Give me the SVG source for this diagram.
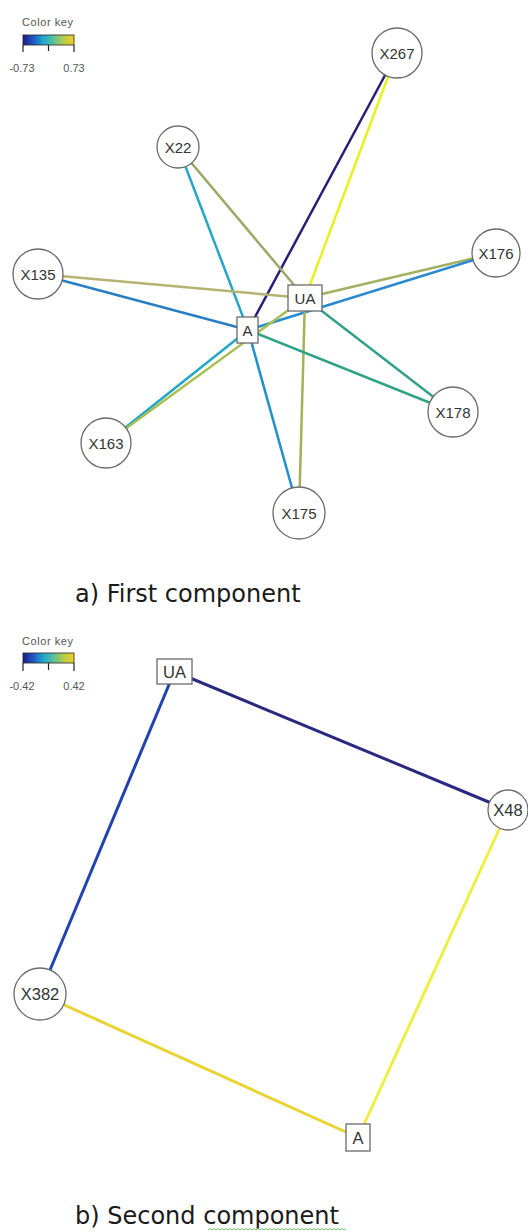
<svg xmlns="http://www.w3.org/2000/svg" width="528" height="1232" viewBox="0 0 528 1232">
<style>
.bg{fill:#ffffff}
.e1{fill:none;stroke-width:2.5;stroke-linecap:round}
.e2{fill:none;stroke-width:3;stroke-linecap:round}
.node{fill:#ffffff;stroke:#6a6a6a;stroke-width:1.3}
.lbl{font-family:"Liberation Sans",Arial,sans-serif;font-size:15px;fill:#333333;text-anchor:middle;dominant-baseline:central}
.lbl2{font-family:"Liberation Sans",Arial,sans-serif;font-size:16.5px;fill:#333333;text-anchor:middle;dominant-baseline:central}
.key{font-family:"Liberation Sans",Arial,sans-serif;font-size:11px;fill:#555555}
.tick{stroke:#222222;stroke-width:1.2}
.title{font-family:"DejaVu Sans",Verdana,sans-serif;font-size:24px;fill:#1a1a1a}
</style>
<defs>
<linearGradient id="ck" x1="0" y1="0" x2="1" y2="0">
<stop offset="0" stop-color="#1c1c8a"/>
<stop offset="0.2" stop-color="#2058c0"/>
<stop offset="0.4" stop-color="#20a8d0"/>
<stop offset="0.6" stop-color="#5cc09a"/>
<stop offset="0.8" stop-color="#b8cc48"/>
<stop offset="1" stop-color="#f2d020"/>
</linearGradient>
</defs>
<rect class="bg" x="0" y="0" width="528" height="1232"/>

<g id="colorkey-a">
<text class="key" x="22" y="26" textLength="51">Color key</text>
<rect x="23" y="35" width="51" height="10" fill="url(#ck)" stroke="#222" stroke-width="0.8"/>
<line class="tick" x1="23" y1="45" x2="23" y2="52"/>
<line class="tick" x1="48.5" y1="45" x2="48.5" y2="51"/>
<line class="tick" x1="74" y1="45" x2="74" y2="52"/>
<text class="key" x="22" y="72" text-anchor="middle">-0.73</text>
<text class="key" x="74" y="72" text-anchor="middle">0.73</text>
</g>

<g id="edges-a">
<line class="e1" x1="248" y1="330" x2="397" y2="53" stroke="#2a1f78"/>
<line class="e1" x1="305" y1="298" x2="397" y2="53" stroke="#e8f022"/>
<line class="e1" x1="178" y1="147" x2="248" y2="330" stroke="#26a6c8"/>
<line class="e1" x1="178" y1="147" x2="305" y2="298" stroke="#98aa68"/>
<line class="e1" x1="38" y1="274" x2="305" y2="298" stroke="#b6b272"/>
<line class="e1" x1="38" y1="274" x2="248" y2="330" stroke="#2a7ec4"/>
<line class="e1" x1="496" y1="253" x2="305" y2="298" stroke="#a2b062"/>
<line class="e1" x1="496" y1="253" x2="248" y2="330" stroke="#2a8ad0"/>
<line class="e1" x1="248" y1="330" x2="106" y2="443" stroke="#22a8c6"/>
<line class="e1" x1="305" y1="298" x2="106" y2="443" stroke="#a8c052"/>
<line class="e1" x1="248" y1="330" x2="299" y2="513" stroke="#2290cc"/>
<line class="e1" x1="305" y1="298" x2="299" y2="513" stroke="#a2b256"/>
<line class="e1" x1="248" y1="330" x2="453" y2="412" stroke="#30a286"/>
<line class="e1" x1="305" y1="298" x2="453" y2="412" stroke="#32a08a"/>
</g>

<g id="node-X267"><circle class="node" cx="397" cy="53" r="25"/><text class="lbl" x="397" y="53">X267</text></g>
<g id="node-X22"><circle class="node" cx="178" cy="147" r="21"/><text class="lbl" x="178" y="147">X22</text></g>
<g id="node-X135"><circle class="node" cx="38" cy="274" r="25"/><text class="lbl" x="38" y="274">X135</text></g>
<g id="node-X176"><circle class="node" cx="496" cy="253" r="24"/><text class="lbl" x="496" y="253">X176</text></g>
<g id="node-X163"><circle class="node" cx="106" cy="443" r="25"/><text class="lbl" x="106" y="443">X163</text></g>
<g id="node-X175"><circle class="node" cx="299" cy="513" r="26"/><text class="lbl" x="299" y="513">X175</text></g>
<g id="node-X178"><circle class="node" cx="453" cy="412" r="25"/><text class="lbl" x="453" y="412">X178</text></g>
<g id="node-UA-a"><rect class="node" x="288" y="285" width="34" height="26"/><text class="lbl" x="305" y="298">UA</text></g>
<g id="node-A-a"><rect class="node" x="237" y="317" width="21" height="26"/><text class="lbl" x="247.5" y="330">A</text></g>

<text class="title" x="75" y="602">a) First component</text>

<g id="colorkey-b">
<text class="key" x="22" y="645" textLength="51">Color key</text>
<rect x="23" y="653" width="51" height="10" fill="url(#ck)" stroke="#222" stroke-width="0.8"/>
<line class="tick" x1="23" y1="663" x2="23" y2="671"/>
<line class="tick" x1="48.5" y1="663" x2="48.5" y2="670"/>
<line class="tick" x1="74" y1="663" x2="74" y2="671"/>
<text class="key" x="22" y="690" text-anchor="middle">-0.42</text>
<text class="key" x="74" y="690" text-anchor="middle">0.42</text>
</g>

<g id="edges-b">
<line class="e2" x1="174.5" y1="671.5" x2="508" y2="810" stroke="#2b2880"/>
<line class="e2" x1="174.5" y1="671.5" x2="40" y2="994" stroke="#2242b0"/>
<line class="e2" x1="40" y1="994" x2="358" y2="1137.5" stroke="#e8d432"/>
<line class="e2" x1="508" y1="810" x2="358" y2="1137.5" stroke="#eeee44"/>
</g>

<g id="node-UA-b"><rect class="node" x="157" y="659" width="35" height="25"/><text class="lbl2" x="174.5" y="671.5">UA</text></g>
<g id="node-X48"><circle class="node" cx="508" cy="810" r="20"/><text class="lbl2" x="508" y="810">X48</text></g>
<g id="node-X382"><circle class="node" cx="40" cy="994" r="26"/><text class="lbl2" x="40" y="994">X382</text></g>
<g id="node-A-b"><rect class="node" x="346" y="1124" width="24" height="27"/><text class="lbl2" x="358" y="1137.5">A</text></g>

<text class="title" x="75" y="1224">b) Second component</text>
<path d="M208 1230 l2 -1.5 l2 1.5 l2 -1.5 l2 1.5 l2 -1.5 l2 1.5 l2 -1.5 l2 1.5 l2 -1.5 l2 1.5 l2 -1.5 l2 1.5 l2 -1.5 l2 1.5 l2 -1.5 l2 1.5 l2 -1.5 l2 1.5 l2 -1.5 l2 1.5 l2 -1.5 l2 1.5 l2 -1.5 l2 1.5 l2 -1.5 l2 1.5 l2 -1.5 l2 1.5 l2 -1.5 l2 1.5 l2 -1.5 l2 1.5 l2 -1.5 l2 1.5 l2 -1.5 l2 1.5 l2 -1.5 l2 1.5 l2 -1.5 l2 1.5 l2 -1.5 l2 1.5 l2 -1.5 l2 1.5 l2 -1.5 l2 1.5 l2 -1.5 l2 1.5 l2 -1.5 l2 1.5 l2 -1.5 l2 1.5 l2 -1.5 l2 1.5 l2 -1.5 l2 1.5 l2 -1.5 l2 1.5 l2 -1.5 l2 1.5 l2 -1.5 l2 1.5 l2 -1.5 l2 1.5 l2 -1.5 l2 1.5 l2 -1.5 l2 1.5 l2 -1.5" fill="none" stroke="#6cbf6c" stroke-width="1"/>
</svg>
